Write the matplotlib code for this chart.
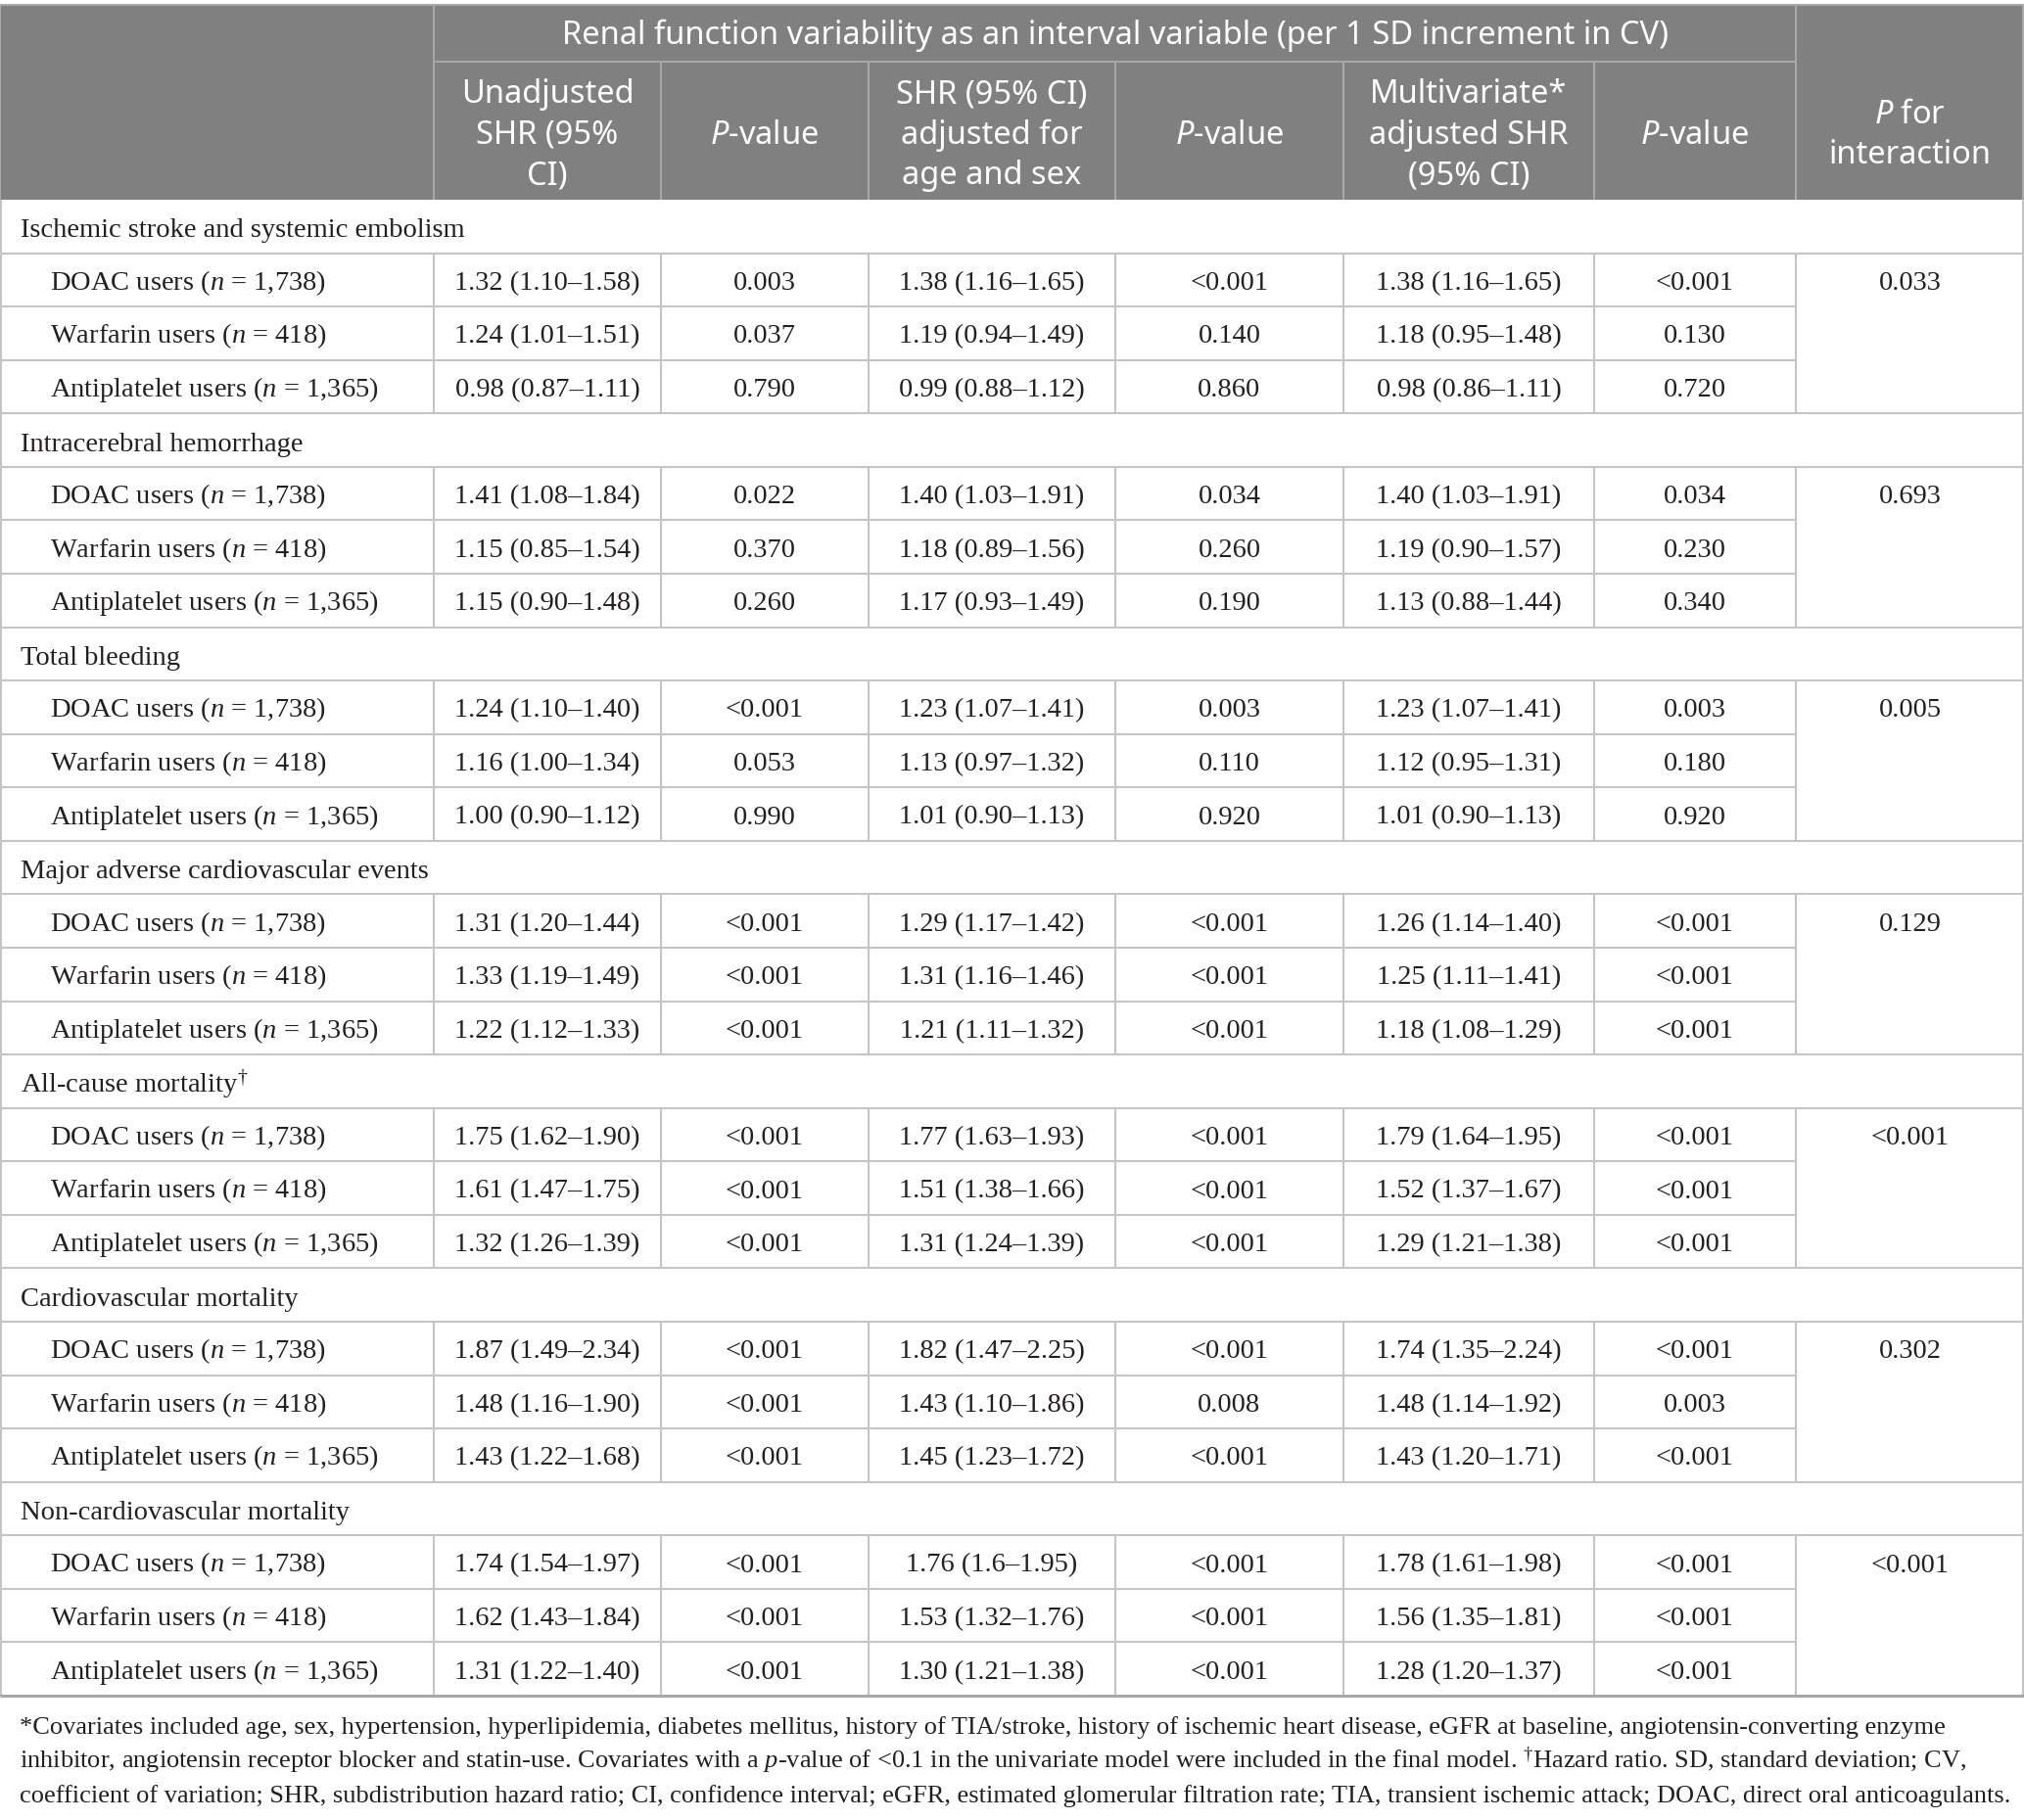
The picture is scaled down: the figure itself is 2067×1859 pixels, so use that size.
import matplotlib
matplotlib.use('Agg')
import matplotlib.pyplot as plt
from matplotlib.patches import Rectangle

plt.rcParams['mathtext.fontset'] = 'custom'
plt.rcParams['mathtext.rm'] = 'Liberation Serif'
plt.rcParams['mathtext.it'] = 'Liberation Serif:italic'
plt.rcParams['mathtext.sf'] = 'Noto Sans:italic'

# ---- table content ----
span_title = 'Renal function variability as an interval variable (per 1 SD increment in CV)'
col_heads = [
    ['Unadjusted', 'SHR (95%', 'CI)'],
    [r'$\mathsf{P}$-value'],
    ['SHR (95% CI)', 'adjusted for', 'age and sex'],
    [r'$\mathsf{P}$-value'],
    ['Multivariate*', 'adjusted SHR', '(95% CI)'],
    [r'$\mathsf{P}$-value'],
    [r'$\mathsf{P}$ for', 'interaction'],
]

outcomes = ['Ischemic stroke and systemic embolism', 'Intracerebral hemorrhage', 'Total bleeding',
            'Major adverse cardiovascular events', r'All-cause mortality$^{\dagger}$',
            'Cardiovascular mortality', 'Non-cardiovascular mortality']
p_interaction = ['0.033', '0.693', '0.005', '0.129', '<0.001', '0.302', '<0.001']
users = ['DOAC users ($n$ = 1,738)', 'Warfarin users ($n$ = 418)', 'Antiplatelet users ($n$ = 1,365)']

unadj_shr = ['1.32 (1.10–1.58)', '1.24 (1.01–1.51)', '0.98 (0.87–1.11)',
             '1.41 (1.08–1.84)', '1.15 (0.85–1.54)', '1.15 (0.90–1.48)',
             '1.24 (1.10–1.40)', '1.16 (1.00–1.34)', '1.00 (0.90–1.12)',
             '1.31 (1.20–1.44)', '1.33 (1.19–1.49)', '1.22 (1.12–1.33)',
             '1.75 (1.62–1.90)', '1.61 (1.47–1.75)', '1.32 (1.26–1.39)',
             '1.87 (1.49–2.34)', '1.48 (1.16–1.90)', '1.43 (1.22–1.68)',
             '1.74 (1.54–1.97)', '1.62 (1.43–1.84)', '1.31 (1.22–1.40)']
unadj_p = ['0.003', '0.037', '0.790',
           '0.022', '0.370', '0.260',
           '<0.001', '0.053', '0.990',
           '<0.001', '<0.001', '<0.001',
           '<0.001', '<0.001', '<0.001',
           '<0.001', '<0.001', '<0.001',
           '<0.001', '<0.001', '<0.001']
agesex_shr = ['1.38 (1.16–1.65)', '1.19 (0.94–1.49)', '0.99 (0.88–1.12)',
              '1.40 (1.03–1.91)', '1.18 (0.89–1.56)', '1.17 (0.93–1.49)',
              '1.23 (1.07–1.41)', '1.13 (0.97–1.32)', '1.01 (0.90–1.13)',
              '1.29 (1.17–1.42)', '1.31 (1.16–1.46)', '1.21 (1.11–1.32)',
              '1.77 (1.63–1.93)', '1.51 (1.38–1.66)', '1.31 (1.24–1.39)',
              '1.82 (1.47–2.25)', '1.43 (1.10–1.86)', '1.45 (1.23–1.72)',
              '1.76 (1.6–1.95)', '1.53 (1.32–1.76)', '1.30 (1.21–1.38)']
agesex_p = ['<0.001', '0.140', '0.860',
            '0.034', '0.260', '0.190',
            '0.003', '0.110', '0.920',
            '<0.001', '<0.001', '<0.001',
            '<0.001', '<0.001', '<0.001',
            '<0.001', '0.008', '<0.001',
            '<0.001', '<0.001', '<0.001']
multi_shr = ['1.38 (1.16–1.65)', '1.18 (0.95–1.48)', '0.98 (0.86–1.11)',
             '1.40 (1.03–1.91)', '1.19 (0.90–1.57)', '1.13 (0.88–1.44)',
             '1.23 (1.07–1.41)', '1.12 (0.95–1.31)', '1.01 (0.90–1.13)',
             '1.26 (1.14–1.40)', '1.25 (1.11–1.41)', '1.18 (1.08–1.29)',
             '1.79 (1.64–1.95)', '1.52 (1.37–1.67)', '1.29 (1.21–1.38)',
             '1.74 (1.35–2.24)', '1.48 (1.14–1.92)', '1.43 (1.20–1.71)',
             '1.78 (1.61–1.98)', '1.56 (1.35–1.81)', '1.28 (1.20–1.37)']
multi_p = ['<0.001', '0.130', '0.720',
           '0.034', '0.230', '0.340',
           '0.003', '0.180', '0.920',
           '<0.001', '<0.001', '<0.001',
           '<0.001', '<0.001', '<0.001',
           '<0.001', '0.003', '<0.001',
           '<0.001', '<0.001', '<0.001']

footnotes = [
    '*Covariates included age, sex, hypertension, hyperlipidemia, diabetes mellitus, history of TIA/stroke, '
    'history of ischemic heart disease, eGFR at baseline, angiotensin-converting enzyme',
    'inhibitor, angiotensin receptor blocker and statin-use. Covariates with a $p$-value of <0.1 in the '
    r'univariate model were included in the final model. $^{\dagger}$Hazard ratio. SD, standard deviation; CV,',
    'coefficient of variation; SHR, subdistribution hazard ratio; CI, confidence interval; eGFR, estimated '
    'glomerular filtration rate; TIA, transient ischemic attack; DOAC, direct oral anticoagulants.',
]

# ---- layout (pixels) ----
W, H = 2067, 1859
col_x = [0, 443, 675, 887, 1139, 1372, 1628, 1834, 2067]
top, head_mid, head_bot, table_bot = 5, 63, 204, 1732
row_h = (table_bot - head_bot) / 28
head_bg = '#808080'
head_line = '#a8a8a8'
grid = '#c4c4c4'
ink = '#231f20'
serif = 'Liberation Serif'
sans = 'Noto Sans'
hfs = 23.5

fig = plt.figure(figsize=(W / 100, H / 100), dpi=100)
ax = fig.add_axes([0, 0, 1, 1])
ax.set_xlim(0, W)
ax.set_ylim(H, 0)
ax.axis('off')

# header
ax.add_patch(Rectangle((0, top), W, head_bot - top, facecolor=head_bg, edgecolor='none'))
ax.hlines(top, 0, W, color=head_line, lw=1.5)
ax.hlines(head_mid, col_x[1], col_x[7], color=head_line, lw=1.5)
ax.vlines([col_x[1], col_x[7]], top, head_bot, color=head_line, lw=1.5)
ax.vlines(col_x[2:7], head_mid, head_bot, color=head_line, lw=1.5)
ax.vlines([0, W - 1], top, head_bot, color=head_line, lw=1.5)

ax.text((col_x[1] + col_x[7]) / 2, (top + head_mid) / 2 + 2, span_title, family=sans, fontsize=hfs,
        color='white', ha='center', va='center')
head_c = (head_mid + head_bot) / 2 + 5
for i, lines in enumerate(col_heads):
    xc = (col_x[i + 1] + col_x[i + 2]) / 2
    n = len(lines)
    for j, s in enumerate(lines):
        y = head_c + (j - (n - 1) / 2) * 41.5
        ax.text(xc, y + 8, s, family=sans, fontsize=hfs, color='white', ha='center', va='baseline')

# body
data_cols = [unadj_shr, unadj_p, agesex_shr, agesex_p, multi_shr, multi_p]
fs = 20.5
for g, name in enumerate(outcomes):
    y0 = head_bot + g * 4 * row_h
    ax.text(21, y0 + row_h / 2 + 11, name, family=serif, fontsize=fs, color=ink, ha='left', va='baseline')
    ax.hlines(y0 + row_h, 0, W, color=grid, lw=1.5)
    for k in range(3):
        r = g * 3 + k
        yt = y0 + (k + 1) * row_h
        yc = yt + row_h / 2 + 10
        ax.text(51, yc, users[k], family=serif, fontsize=fs, color=ink, ha='left', va='baseline')
        for c, col in enumerate(data_cols):
            xc = (col_x[c + 1] + col_x[c + 2]) / 2
            ax.text(xc, yc, col[r], family=serif, fontsize=fs, color=ink, ha='center', va='baseline')
        if k < 2:
            ax.hlines(yt + row_h, 0, col_x[7], color=grid, lw=1.5)
    ax.text((col_x[7] + col_x[8]) / 2, y0 + 1.5 * row_h + 10, p_interaction[g], family=serif,
            fontsize=fs, color=ink, ha='center', va='baseline')
    ax.vlines(col_x[1:8], y0 + row_h, y0 + 4 * row_h, color=grid, lw=1.5)
    ax.hlines(y0 + 4 * row_h, 0, W, color=grid, lw=1.5)

ax.vlines([1, W - 1], head_bot, table_bot, color=grid, lw=1.5)
ax.hlines(table_bot, 0, W, color='#a8a8a8', lw=2.2)

# footnotes
for i, s in enumerate(footnotes):
    ax.text(20, 1771 + i * 35, s, family=serif, fontsize=19, color=ink, ha='left', va='baseline')

fig.savefig('out.png', dpi=100, facecolor='white')
